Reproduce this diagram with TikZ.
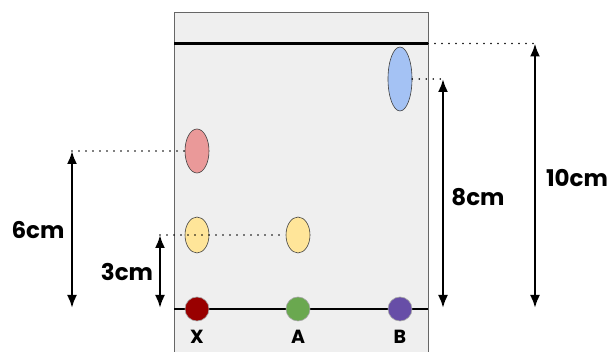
\documentclass[tikz,border=0pt]{standalone}
\usepackage{fontspec}
\setmainfont{Poppins}
\usetikzlibrary{shapes.geometric,arrows.meta}

\definecolor{platefill}{HTML}{EFEFEF}
\definecolor{plateedge}{HTML}{666666}
\definecolor{spotblue}{HTML}{A4C2F4}
\definecolor{spotred}{HTML}{EA9999}
\definecolor{spotyellow}{HTML}{FFE599}
\definecolor{dotx}{HTML}{990000}
\definecolor{dota}{HTML}{6AA84F}
\definecolor{dotb}{HTML}{674EA7}

\begin{document}
\begin{tikzpicture}[x=1pt,y=-1pt,
  spot/.style={ellipse, draw=black!75, line width=0.6pt, minimum width=24pt, inner sep=0pt},
  dot/.style={circle, draw=black!35, line width=0.6pt, minimum size=24pt, inner sep=0pt},
  dimarrow/.style={line width=2.3pt, {Latex[length=13pt,width=10pt]}-{Latex[length=13pt,width=10pt]}},
  guide/.style={line width=1.7pt, line cap=round, dash pattern=on 0pt off 7pt},
  dimlabel/.style={font=\fontsize{23}{27}\selectfont\bfseries},
  spotlabel/.style={font=\fontsize{19}{22}\selectfont\bfseries}]
\useasboundingbox (0,0) rectangle (614,352);

% Plate
\fill[platefill] (174,13) rectangle (428,353);
\draw[plateedge, line width=1pt] (174,353) -- (174,13) -- (428,13) -- (428,353);

% Solvent front and base line
\draw[line width=2.2pt] (174,43.5) -- (428,43.5);
\draw[line width=2.2pt] (174,309) -- (428,309);

% Spots
\node[spot, fill=spotblue, minimum height=64pt] (blue) at (400,79) {};
\node[spot, fill=spotred, minimum height=44pt] (red) at (197,151) {};
\node[spot, fill=spotyellow, minimum height=36pt] (yellowx) at (197,235) {};
\node[spot, fill=spotyellow, minimum height=36pt] (yellowa) at (298,235) {};

% Starting dots
\node[dot, fill=dotx] (x) at (197,309) {};
\node[dot, fill=dota] (a) at (298,309) {};
\node[dot, fill=dotb] (b) at (400,309) {};
\node[spotlabel] at (197,337) {X};
\node[spotlabel] at (298,337) {A};
\node[spotlabel] at (400,337) {B};

% Arrow ends
\coordinate (six top) at (72,151);
\coordinate (six bot) at (72,308);
\coordinate (three top) at (160,235);
\coordinate (three bot) at (160,308);
\coordinate (eight top) at (443,79);
\coordinate (eight bot) at (443,308);
\coordinate (ten top) at (535,43.5);
\coordinate (ten bot) at (535,308);
\coordinate (front end) at (428,43.5);

% Guide lines
\draw[guide] (six top) -- (red.west);
\draw[guide] (three top) -- (yellowa.west);
\draw[guide] (blue.east) -- (eight top);
\draw[guide] (front end) -- (ten top);

% Distances
\draw[dimarrow] (six top) -- (six bot);
\draw[dimarrow] (three top) -- (three bot);
\draw[dimarrow] (eight top) -- (eight bot);
\draw[dimarrow] (ten top) -- (ten bot);
\node[dimlabel] at (38,230) {6cm};
\node[dimlabel] at (127,272) {3cm};
\node[dimlabel] at (478,197) {8cm};
\node[dimlabel] at (577,178) {10cm};
\end{tikzpicture}
\end{document}
